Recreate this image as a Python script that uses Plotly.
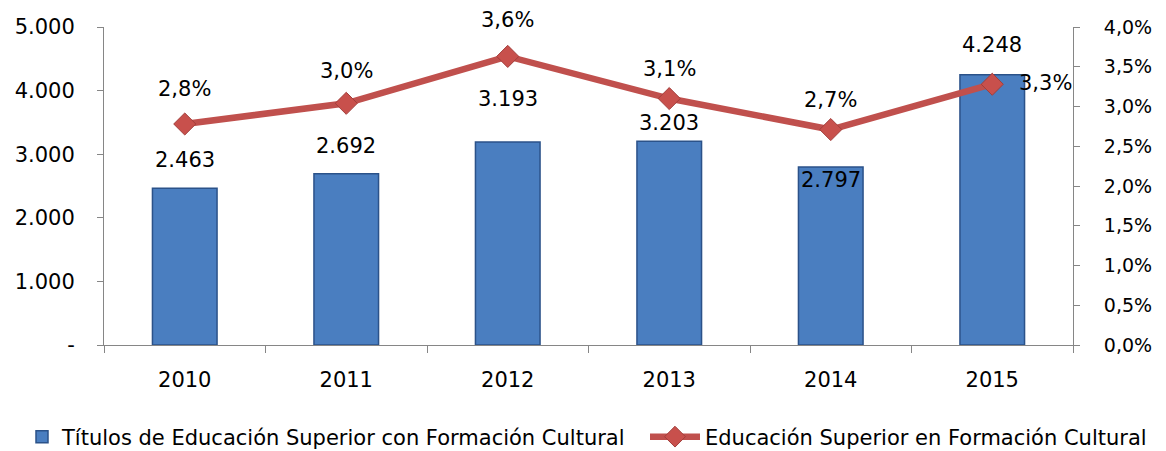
import plotly.graph_objects as go

years = ["2010", "2011", "2012", "2013", "2014", "2015"]
titulos = [2463, 2692, 3193, 3203, 2797, 4248]
participacion = [0.0278, 0.0304, 0.0363, 0.0310, 0.0271, 0.0328]

left_ticks = [0, 1000, 2000, 3000, 4000, 5000]
left_ticktext = ["-", "1.000", "2.000", "3.000", "4.000", "5.000"]

# label offsets in pixels (manually placed in the original)
bar_label_shift = [28, 28, 43, 18, -13, 30]
line_label_shift = [(0, 35), (0, 32), (0, 36), (0, 30), (0, 30), (53, 1)]

FONT = "DejaVu Sans"
AXIS_GREY = "#868686"
BLUE = "#4A7EC0"
RED = "#C0504D"

# page body has an 8px margin, so the figure is sized to fit inside the window
W, H = 1158, 443

fig = go.Figure()

fig.add_trace(go.Bar(
    x=years,
    y=titulos,
    name="Títulos de Educación Superior con Formación Cultural",
    marker=dict(color=BLUE, line=dict(color="#2B5289", width=1.5)),
    yaxis="y",
    legend="legend",
))

fig.add_trace(go.Scatter(
    x=years,
    y=participacion,
    name="Educación Superior en Formación Cultural",
    mode="lines+markers",
    line=dict(color=RED, width=6.5),
    marker=dict(symbol="diamond", size=17, color="#C8504C",
                line=dict(color="#A23E3B", width=1)),
    yaxis="y2",
    legend="legend2",
))

# annotations use the category index, so year strings are not read as numbers
annotations = []
for i, (val, dy) in enumerate(zip(titulos, bar_label_shift)):
    annotations.append(dict(
        x=i, y=val, xref="x", yref="y",
        text=f"{val:,}".replace(",", "."),
        showarrow=False, yshift=dy, yanchor="middle",
        font=dict(size=21, color="#000000", family=FONT),
    ))
for i, (val, (dx, dy)) in enumerate(zip(participacion, line_label_shift)):
    annotations.append(dict(
        x=i, y=val, xref="x", yref="y2",
        text=f"{val * 100:.1f}%".replace(".", ","),
        showarrow=False, xshift=dx, yshift=dy, yanchor="middle",
        font=dict(size=21, color="#000000", family=FONT),
    ))

legend_style = dict(
    orientation="h",
    xref="container", yref="container",
    y=1 - 429 / H, yanchor="middle",
    font=dict(size=21),
    bgcolor="rgba(0,0,0,0)",
)

fig.update_layout(
    width=W,
    height=H,
    margin=dict(l=96, r=W - 1065, t=19, b=H - 337, autoexpand=False),
    paper_bgcolor="white",
    plot_bgcolor="white",
    separators=",.",
    font=dict(family=FONT, size=21, color="#000000"),
    bargap=0.6,
    showlegend=True,
    legend=dict(legend_style, x=14 / W, xanchor="left", itemwidth=30),
    legend2=dict(legend_style, x=637 / W, xanchor="left", itemwidth=50),
    xaxis=dict(
        type="category",
        range=[-0.5, 5.5],
        showline=True, linecolor=AXIS_GREY, linewidth=1,
        ticks="outside", tickson="boundaries", ticklen=7, tickcolor=AXIS_GREY,
        showgrid=False, zeroline=False,
        tickangle=0, automargin=False,
        ticklabelstandoff=16,
    ),
    yaxis=dict(
        range=[0, 5000],
        tickvals=left_ticks, ticktext=left_ticktext,
        showline=True, linecolor=AXIS_GREY, linewidth=1,
        ticks="outside", ticklen=6, tickcolor=AXIS_GREY,
        showgrid=False, zeroline=False, automargin=False,
        ticklabelstandoff=18,
    ),
    yaxis2=dict(
        range=[0, 0.04], dtick=0.005, tickformat=".1%",
        overlaying="y", side="right",
        showline=True, linecolor=AXIS_GREY, linewidth=1,
        ticks="outside", ticklen=6, tickcolor=AXIS_GREY,
        showgrid=False, zeroline=False, automargin=False,
        ticklabelstandoff=20,
        tickfont=dict(size=19),
    ),
    annotations=annotations,
)

fig.write_html("out.html")
